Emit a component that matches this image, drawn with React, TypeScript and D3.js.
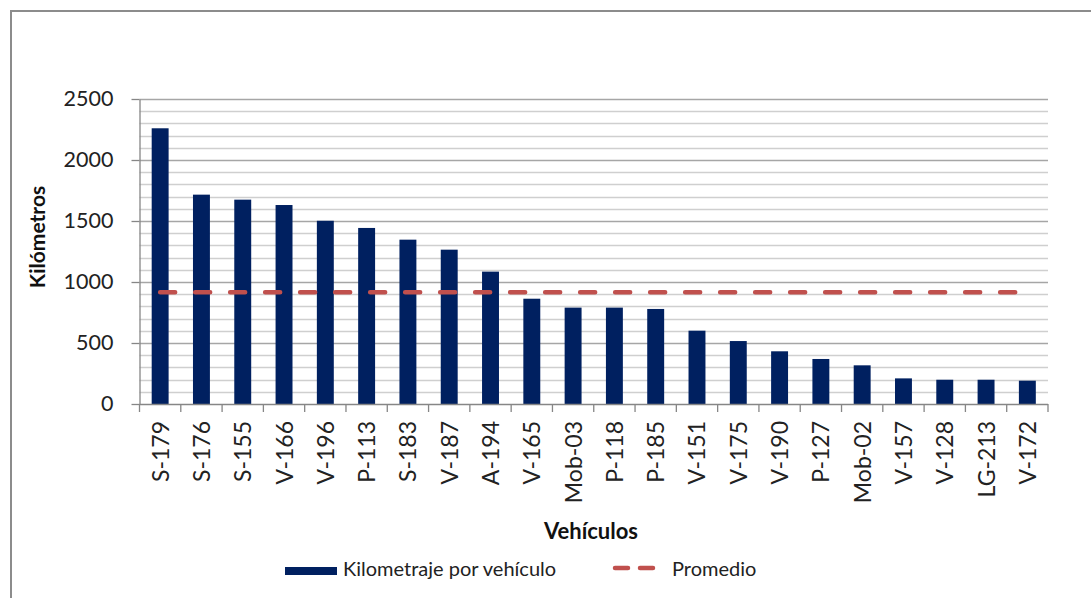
import React, { useEffect, useRef } from "react";
import * as d3 from "d3";

const vehiculos = [
  "S-179", "S-176", "S-155", "V-166", "V-196", "P-113", "S-183", "V-187", "A-194", "V-165", "Mob-03",
  "P-118", "P-185", "V-151", "V-175", "V-190", "P-127", "Mob-02", "V-157", "V-128", "LG-213", "V-172",
];
const kilometraje = [
  2260, 1716, 1675, 1631, 1502, 1443, 1347, 1265, 1085, 863, 790,
  790, 779, 601, 516, 432, 369, 317, 210, 199, 199, 191,
];
const promedio = vehiculos.map(() => 917);
const yTicks = [0, 500, 1000, 1500, 2000, 2500];

const W = 1091;
const H = 598;
const FONT = "Lato, 'Open Sans', sans-serif";

export default function App() {
  const ref = useRef<SVGSVGElement>(null);

  useEffect(() => {
    const svg = d3.select(ref.current);
    svg.selectAll("*").remove();

    const left = 139.5, right = 1048, top = 99, bottom = 404;

    const x = d3.scaleBand().domain(vehiculos).range([left, right]).paddingInner(0.59).paddingOuter(0.295);
    const xb = d3.scaleBand().domain(vehiculos).range([left, right]);
    const y = d3.scaleLinear().domain([0, 2500]).range([bottom, top]);

    svg.append("rect").attr("x", 0).attr("y", 0).attr("width", W).attr("height", H).attr("fill", "#fff");
    // outer chart border
    svg.append("path").attr("d", `M11,${H} V11 H${W}`).attr("fill", "none").attr("stroke", "#8c8c8c").attr("stroke-width", 2);

    // gridlines every 100
    const grid = d3.range(100, 2501, 100);
    svg.append("g").selectAll("line").data(grid).enter().append("line")
      .attr("x1", left).attr("x2", right)
      .attr("y1", (d) => Math.round(y(d)) + 0.5).attr("y2", (d) => Math.round(y(d)) + 0.5)
      .attr("stroke", (d) => (d % 500 === 0 ? "#a6a6a6" : "#cfcfcf"))
      .attr("stroke-width", 1.3);

    // bars
    svg.append("g").selectAll("rect").data(kilometraje).enter().append("rect")
      .attr("x", (d, i) => x(vehiculos[i])!)
      .attr("width", x.bandwidth())
      .attr("y", (d) => y(d))
      .attr("height", (d) => bottom - y(d))
      .attr("fill", "#002060");

    // axes
    const yAxis = svg.append("g").attr("transform", `translate(${left},0)`)
      .call(d3.axisLeft(y).tickValues(yTicks).tickFormat(d3.format("d")).tickSize(8).tickSizeOuter(0));
    yAxis.select(".domain").attr("stroke", "#868686").attr("stroke-width", 1.3);
    yAxis.selectAll(".tick line").attr("stroke", "#868686").attr("stroke-width", 1.3);
    yAxis.selectAll(".tick text").attr("font-family", FONT).attr("font-size", 21.5).attr("fill", "#222").attr("x", -26);

    const xg = svg.append("g");
    xg.append("line").attr("x1", left).attr("x2", right).attr("y1", bottom + 0.5).attr("y2", bottom + 0.5)
      .attr("stroke", "#868686").attr("stroke-width", 1.3);
    xg.selectAll("line.t").data([...vehiculos.map((v) => xb(v)!), right]).enter().append("line")
      .attr("class", "t")
      .attr("x1", (d) => d).attr("x2", (d) => d).attr("y1", bottom).attr("y2", bottom + 8)
      .attr("stroke", "#868686").attr("stroke-width", 1.3);
    xg.selectAll("text").data(vehiculos).enter().append("text")
      .attr("transform", (d) => `translate(${xb(d)! + xb.bandwidth() / 2 + 8.5},${bottom + 17}) rotate(-90)`)
      .attr("text-anchor", "end")
      .attr("font-family", FONT).attr("font-size", 23).attr("fill", "#222")
      .text((d) => d);

    // average line
    const line = d3.line<number>()
      .x((d, i) => xb(vehiculos[i])! + xb.bandwidth() / 2)
      .y((d) => y(d));
    svg.append("path").datum(promedio).attr("d", line)
      .attr("fill", "none").attr("stroke", "#c0504d").attr("stroke-width", 4.5)
      .attr("stroke-linecap", "round").attr("stroke-dasharray", "15 20");

    // axis titles
    svg.append("text").attr("x", 591).attr("y", 539).attr("text-anchor", "middle")
      .attr("font-family", FONT).attr("font-weight", "bold").attr("font-size", 22).attr("fill", "#111")
      .text("Vehículos");
    svg.append("text").attr("transform", "translate(45,237) rotate(-90)").attr("text-anchor", "middle")
      .attr("font-family", FONT).attr("font-weight", "bold").attr("font-size", 21).attr("fill", "#111")
      .text("Kilómetros");

    // legend
    const lg = svg.append("g");
    lg.append("rect").attr("x", 285).attr("y", 567).attr("width", 52).attr("height", 8).attr("fill", "#002060");
    lg.append("text").attr("x", 343).attr("y", 576).attr("font-family", FONT).attr("font-size", 20).attr("fill", "#222")
      .text("Kilometraje por vehículo");
    lg.append("line").attr("x1", 615).attr("x2", 653).attr("y1", 568).attr("y2", 568)
      .attr("stroke", "#c0504d").attr("stroke-width", 4.5).attr("stroke-linecap", "round").attr("stroke-dasharray", "13 12");
    lg.append("text").attr("x", 672).attr("y", 576).attr("font-family", FONT).attr("font-size", 20).attr("fill", "#222")
      .text("Promedio");
  }, []);

  return (
    <svg ref={ref} width={W} height={H} style={{ display: "block", position: "absolute", left: 0, top: 0 }} />
  );
}
